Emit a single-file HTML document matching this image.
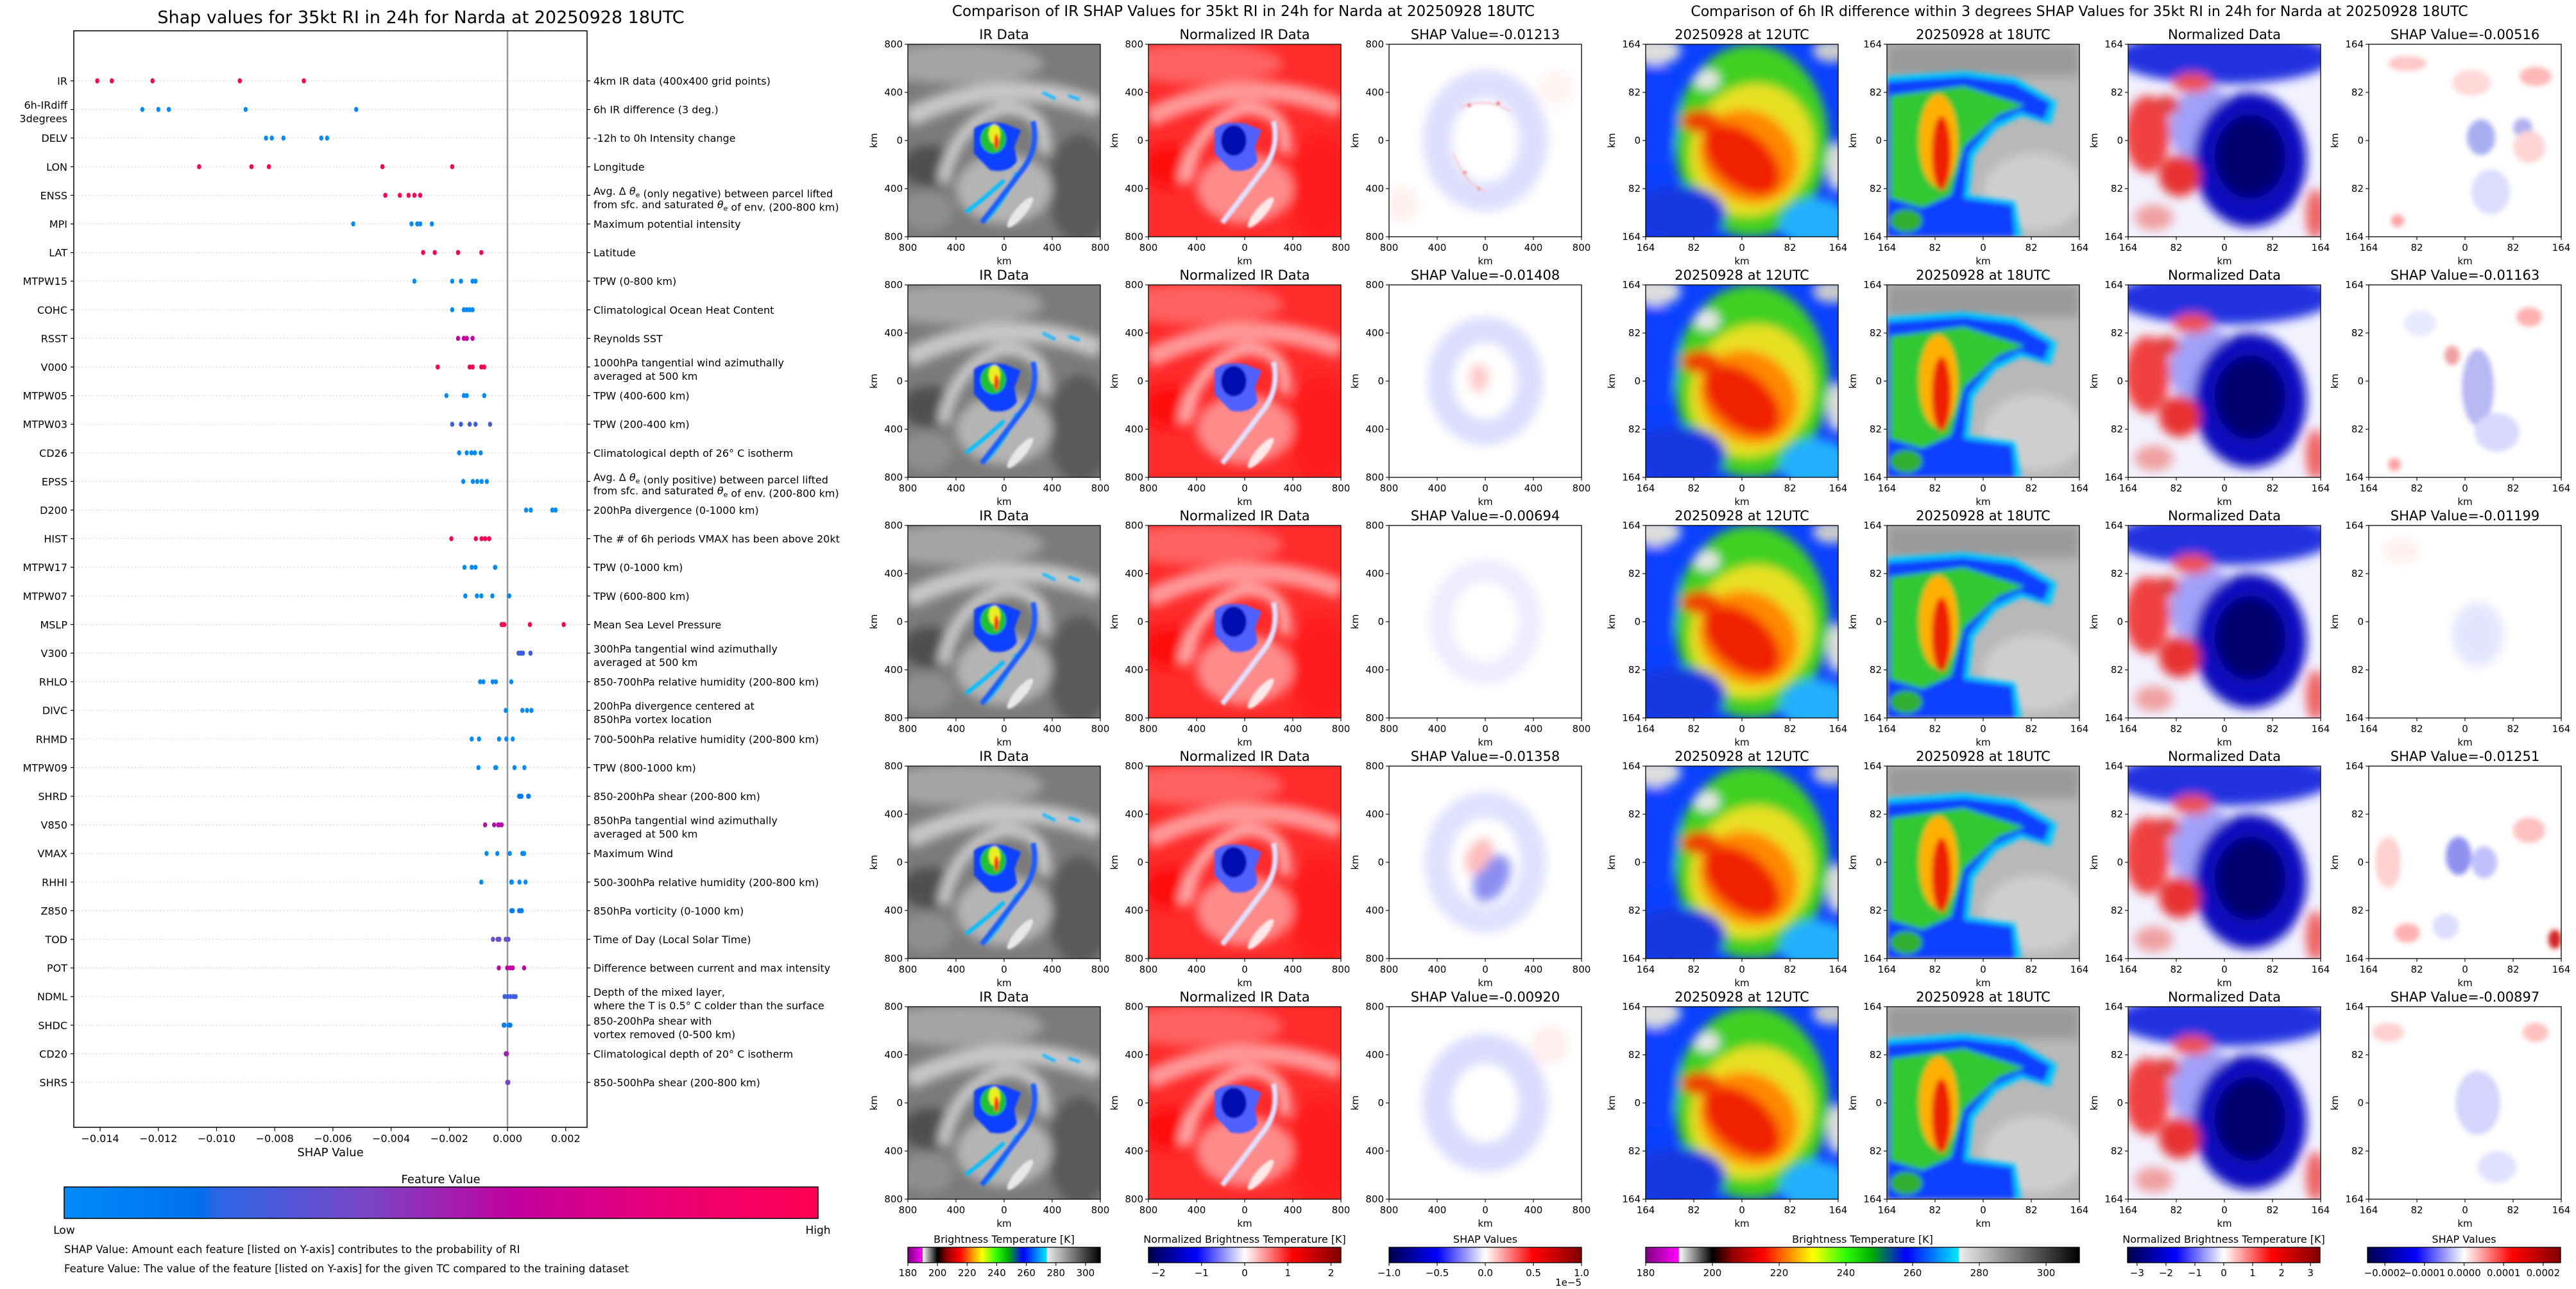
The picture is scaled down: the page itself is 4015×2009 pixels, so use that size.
<!DOCTYPE html>
<html><head><meta charset="utf-8"><style>
html,body{margin:0;padding:0;background:#fff;}
svg{display:block;font-family:"DejaVu Sans","Liberation Sans",sans-serif;}
</style></head><body>
<svg id="fig" xmlns="http://www.w3.org/2000/svg" width="4015" height="2009" viewBox="0 0 4015 2009">
<defs>
<filter id="b8" x="-20%" y="-20%" width="140%" height="140%"><feGaussianBlur stdDeviation="8"/></filter>
<filter id="b4" x="-20%" y="-20%" width="140%" height="140%"><feGaussianBlur stdDeviation="4"/></filter>
<filter id="b2" x="-20%" y="-20%" width="140%" height="140%"><feGaussianBlur stdDeviation="1.6"/></filter>
<clipPath id="pc"><rect width="300" height="300"/></clipPath>
<linearGradient id="gFeat" x1="0" x2="1" y1="0" y2="0">
<stop offset="0" stop-color="#008bfb"/><stop offset="0.18" stop-color="#0070ee"/><stop offset="0.2" stop-color="#2a66e6"/><stop offset="0.4" stop-color="#7a46c6"/><stop offset="0.6" stop-color="#c2009e"/><stop offset="0.8" stop-color="#ec0076"/><stop offset="1" stop-color="#ff0052"/></linearGradient>
<linearGradient id="gBT" x1="0" x2="1" y1="0" y2="0">
<stop offset="0" stop-color="#800080"/><stop offset="0.076" stop-color="#ff00ff"/><stop offset="0.077" stop-color="#ffffff"/><stop offset="0.154" stop-color="#000000"/><stop offset="0.2" stop-color="#900000"/><stop offset="0.27" stop-color="#ff0000"/><stop offset="0.34" stop-color="#ffa000"/><stop offset="0.385" stop-color="#ffff00"/><stop offset="0.46" stop-color="#30ff00"/><stop offset="0.52" stop-color="#00b000"/><stop offset="0.6" stop-color="#0000ff"/><stop offset="0.721" stop-color="#00e8ff"/><stop offset="0.723" stop-color="#ececec"/><stop offset="1" stop-color="#000000"/></linearGradient>
<linearGradient id="gSeis" x1="0" x2="1" y1="0" y2="0">
<stop offset="0" stop-color="#00004c"/><stop offset="0.25" stop-color="#0000ff"/><stop offset="0.5" stop-color="#ffffff"/><stop offset="0.75" stop-color="#ff0000"/><stop offset="1" stop-color="#800000"/></linearGradient>

<symbol id="irImg" viewBox="0 0 300 300"><g clip-path="url(#pc)">
<rect width="300" height="300" fill="#7b7b7b"/>
<g filter="url(#b8)">
<ellipse cx="80" cy="30" rx="130" ry="32" fill="#a4a4a4"/>
<path d="M0,115 Q150,40 300,100" stroke="#c8c8c8" stroke-width="30" fill="none"/>
<ellipse cx="35" cy="190" rx="45" ry="32" fill="#505050"/>
<ellipse cx="268" cy="225" rx="50" ry="85" fill="#5a5a5a"/>
<ellipse cx="150" cy="225" rx="75" ry="55" fill="#b4b4b4"/>
<path d="M55,215 Q75,120 150,100 Q220,100 212,170" stroke="#cfcfcf" stroke-width="18" fill="none"/>
<ellipse cx="30" cy="260" rx="40" ry="30" fill="#8f8f8f"/>
</g>
<ellipse cx="175" cy="262" rx="30" ry="8" fill="#e8e8e8" transform="rotate(-50 175 262)" filter="url(#b2)"/>
<g filter="url(#b2)">
<path d="M150,212 Q120,240 90,262 M170,200 Q150,245 120,275" stroke="#00bfff" stroke-width="6" fill="none"/>
<path d="M195,120 Q205,165 175,200 Q145,240 115,278" stroke="#1a5cff" stroke-width="8" fill="none"/>
<path d="M103,132 Q118,118 152,124 L176,134 L166,160 L170,182 Q158,202 128,196 L103,170 Z" fill="#1040ff"/>
<ellipse cx="133" cy="148" rx="20" ry="22" fill="#20c030"/>
<ellipse cx="135" cy="140" rx="9" ry="15" fill="#e8f020"/>
<ellipse cx="138" cy="152" rx="3.5" ry="12" fill="#ff3000"/>
<path d="M210,75 L230,85 M250,80 L268,86" stroke="#20b8ff" stroke-width="5"/>
</g></g></symbol>

<symbol id="nrImg" viewBox="0 0 300 300"><g clip-path="url(#pc)">
<rect width="300" height="300" fill="#ff2a2a"/>
<g filter="url(#b8)">
<ellipse cx="80" cy="30" rx="130" ry="32" fill="#ff6060"/>
<path d="M0,115 Q150,40 300,100" stroke="#ff9a9a" stroke-width="30" fill="none"/>
<ellipse cx="35" cy="190" rx="45" ry="32" fill="#ff0c0c"/>
<ellipse cx="268" cy="225" rx="50" ry="85" fill="#ff1a1a"/>
<ellipse cx="150" cy="225" rx="75" ry="55" fill="#ff8a8a"/>
<path d="M55,215 Q75,120 150,100 Q220,100 212,170" stroke="#ffb0b0" stroke-width="18" fill="none"/>
</g>
<ellipse cx="175" cy="262" rx="30" ry="8" fill="#ffe8e8" transform="rotate(-50 175 262)" filter="url(#b2)"/>
<g filter="url(#b2)">
<path d="M195,120 Q205,165 175,200 Q145,240 115,278" stroke="#e0e0ff" stroke-width="8" fill="none"/>
<path d="M103,132 Q118,118 152,124 L176,134 L166,160 L170,182 Q158,202 128,196 L103,170 Z" fill="#5060ff"/>
<ellipse cx="133" cy="150" rx="20" ry="24" fill="#0010b0"/>
</g></g></symbol>

<symbol id="t12" viewBox="0 0 300 300"><g clip-path="url(#pc)">
<rect width="300" height="300" fill="#0a40ff"/>
<g filter="url(#b8)">
<ellipse cx="165" cy="150" rx="120" ry="150" fill="#40d020"/>
<ellipse cx="165" cy="165" rx="95" ry="105" fill="#e8e020" transform="rotate(25 165 165)"/>
<ellipse cx="160" cy="175" rx="80" ry="70" fill="#ff8800" transform="rotate(35 160 175)"/>
<ellipse cx="150" cy="180" rx="70" ry="42" fill="#f02000" transform="rotate(40 150 180)"/>
<ellipse cx="85" cy="120" rx="30" ry="18" fill="#f04000"/>
<ellipse cx="15" cy="110" rx="35" ry="80" fill="#1040ff"/>
<ellipse cx="50" cy="265" rx="75" ry="45" fill="#1838e0"/>
<ellipse cx="265" cy="280" rx="55" ry="40" fill="#20b0ff"/>
<ellipse cx="15" cy="10" rx="40" ry="22" fill="#dddddd"/>
<ellipse cx="298" cy="190" rx="16" ry="40" fill="#dddddd"/>
<ellipse cx="290" cy="10" rx="30" ry="18" fill="#cccccc"/>
<ellipse cx="95" cy="55" rx="20" ry="15" fill="#e8e8e8"/>
</g></g></symbol>

<symbol id="t18" viewBox="0 0 300 300"><g clip-path="url(#pc)">
<rect width="300" height="300" fill="#b8b8b8"/>
<g filter="url(#b8)">
<rect width="300" height="50" fill="#9a9a9a"/>
<ellipse cx="230" cy="230" rx="80" ry="60" fill="#cfcfcf"/>
</g>
<g filter="url(#b4)">
<path d="M0,50 L120,42 L200,52 L265,90 L255,125 L210,112 L170,132 L135,175 L128,235 L200,245 L210,300 L0,300 Z" fill="#00c8ff"/>
<path d="M0,58 L120,50 L198,60 L255,92 L245,118 L208,105 L165,125 L128,170 L120,240 L195,250 L200,300 L0,300 Z" fill="#1040ff"/>
<path d="M5,80 L120,65 L215,95 L175,110 L120,160 L100,235 L55,255 L5,240 Z" fill="#30c830"/>
<ellipse cx="80" cy="150" rx="30" ry="72" fill="#ffb000"/>
<ellipse cx="85" cy="170" rx="15" ry="58" fill="#ee2000"/>
<ellipse cx="30" cy="275" rx="25" ry="18" fill="#30b030"/>
</g></g></symbol>

<symbol id="n3" viewBox="0 0 300 300"><g clip-path="url(#pc)">
<rect width="300" height="300" fill="#f2f2ff"/>
<g filter="url(#b8)">
<ellipse cx="150" cy="20" rx="170" ry="42" fill="#2030e0"/>
<ellipse cx="120" cy="130" rx="55" ry="65" fill="#a0a0f8"/>
<ellipse cx="190" cy="180" rx="88" ry="105" fill="#1010c0"/>
<ellipse cx="190" cy="175" rx="55" ry="65" fill="#000070"/>
<ellipse cx="30" cy="140" rx="35" ry="60" fill="#f04040"/>
<ellipse cx="80" cy="205" rx="32" ry="32" fill="#e83030"/>
<ellipse cx="100" cy="60" rx="30" ry="15" fill="#f05050"/>
<ellipse cx="60" cy="95" rx="20" ry="15" fill="#e04040"/>
<ellipse cx="292" cy="265" rx="15" ry="40" fill="#f06060"/>
<ellipse cx="40" cy="270" rx="30" ry="20" fill="#f0a0a0"/>
</g></g></symbol>

<symbol id="s1" viewBox="0 0 300 300"><g clip-path="url(#pc)"><rect width="300" height="300" fill="#fff"/>
<g filter="url(#b8)"><ellipse cx="150" cy="150" rx="75" ry="88" fill="none" stroke="#dedeff" stroke-width="45"/><ellipse cx="20" cy="250" rx="25" ry="30" fill="#fff0f0"/><ellipse cx="260" cy="70" rx="30" ry="30" fill="#fff4f4"/></g>
<g filter="url(#b2)"><path d="M110,100 Q150,80 190,105 M100,170 Q120,220 150,230" stroke="#f8c8c8" stroke-width="2.5" fill="none"/><circle cx="125" cy="95" r="3" fill="#f08080"/><circle cx="170" cy="92" r="3" fill="#f08080"/><circle cx="118" cy="200" r="3" fill="#f09090"/><circle cx="140" cy="225" r="2.5" fill="#f09090"/></g></g></symbol>
<symbol id="s2" viewBox="0 0 300 300"><g clip-path="url(#pc)"><rect width="300" height="300" fill="#fff"/>
<g filter="url(#b8)"><ellipse cx="150" cy="150" rx="70" ry="80" fill="none" stroke="#dcdcff" stroke-width="40"/><ellipse cx="140" cy="145" rx="15" ry="22" fill="#ffc8c8"/></g></g></symbol>
<symbol id="s3" viewBox="0 0 300 300"><g clip-path="url(#pc)"><rect width="300" height="300" fill="#fff"/>
<g filter="url(#b8)"><ellipse cx="150" cy="150" rx="70" ry="80" fill="none" stroke="#ececff" stroke-width="35"/></g></g></symbol>
<symbol id="s4" viewBox="0 0 300 300"><g clip-path="url(#pc)"><rect width="300" height="300" fill="#fff"/>
<g filter="url(#b8)"><ellipse cx="150" cy="150" rx="75" ry="90" fill="none" stroke="#e0e0ff" stroke-width="40"/><ellipse cx="160" cy="175" rx="25" ry="40" fill="#8a8ef0" transform="rotate(30 160 175)"/><ellipse cx="140" cy="140" rx="18" ry="30" fill="#ffbcbc" transform="rotate(30 140 140)"/></g></g></symbol>
<symbol id="s5" viewBox="0 0 300 300"><g clip-path="url(#pc)"><rect width="300" height="300" fill="#fff"/>
<g filter="url(#b8)"><ellipse cx="150" cy="150" rx="75" ry="85" fill="none" stroke="#dadaff" stroke-width="45"/><ellipse cx="250" cy="60" rx="30" ry="30" fill="#ffeeee"/></g></g></symbol>
<symbol id="r1" viewBox="0 0 300 300"><g clip-path="url(#pc)"><rect width="300" height="300" fill="#fff"/>
<g filter="url(#b4)"><ellipse cx="60" cy="30" rx="30" ry="12" fill="#ffc8c8"/><ellipse cx="160" cy="60" rx="30" ry="20" fill="#ffd8d8"/><ellipse cx="260" cy="50" rx="25" ry="15" fill="#ffb8b8"/><ellipse cx="175" cy="145" rx="22" ry="28" fill="#a8aef0"/><ellipse cx="240" cy="130" rx="15" ry="15" fill="#b0b0f0"/><ellipse cx="250" cy="160" rx="25" ry="25" fill="#ffd4d4"/><ellipse cx="190" cy="230" rx="30" ry="35" fill="#dcdcff"/><ellipse cx="45" cy="275" rx="10" ry="10" fill="#ffa0a0"/></g></g></symbol>
<symbol id="r2" viewBox="0 0 300 300"><g clip-path="url(#pc)"><rect width="300" height="300" fill="#fff"/>
<g filter="url(#b4)"><ellipse cx="170" cy="160" rx="25" ry="60" fill="#b8b8f4"/><ellipse cx="130" cy="110" rx="12" ry="15" fill="#f0a0a0"/><ellipse cx="250" cy="50" rx="20" ry="15" fill="#ffb0b0"/><ellipse cx="40" cy="280" rx="10" ry="10" fill="#ffa0a0"/><ellipse cx="80" cy="60" rx="25" ry="20" fill="#e8e8ff"/><ellipse cx="200" cy="230" rx="35" ry="30" fill="#d8d8ff"/></g></g></symbol>
<symbol id="r3" viewBox="0 0 300 300"><g clip-path="url(#pc)"><rect width="300" height="300" fill="#fff"/>
<g filter="url(#b8)"><ellipse cx="170" cy="170" rx="40" ry="50" fill="#e4e4ff"/><ellipse cx="50" cy="40" rx="30" ry="20" fill="#fff0f0"/></g></g></symbol>
<symbol id="r4" viewBox="0 0 300 300"><g clip-path="url(#pc)"><rect width="300" height="300" fill="#fff"/>
<g filter="url(#b4)"><ellipse cx="140" cy="140" rx="20" ry="30" fill="#9090f0"/><ellipse cx="180" cy="150" rx="20" ry="25" fill="#c0c0ff"/><ellipse cx="250" cy="100" rx="25" ry="20" fill="#ffc0c0"/><ellipse cx="30" cy="150" rx="20" ry="40" fill="#ffd0d0"/><ellipse cx="290" cy="270" rx="10" ry="15" fill="#d02020"/><ellipse cx="60" cy="260" rx="20" ry="15" fill="#ffb0b0"/><ellipse cx="120" cy="250" rx="20" ry="20" fill="#dcdcff"/></g></g></symbol>
<symbol id="r5" viewBox="0 0 300 300"><g clip-path="url(#pc)"><rect width="300" height="300" fill="#fff"/>
<g filter="url(#b4)"><ellipse cx="170" cy="150" rx="35" ry="50" fill="#d4d4fc"/><ellipse cx="30" cy="40" rx="25" ry="15" fill="#ffd0d0"/><ellipse cx="260" cy="40" rx="20" ry="15" fill="#ffc0c0"/><ellipse cx="200" cy="250" rx="30" ry="25" fill="#e0e0ff"/></g></g></symbol>
</defs>

<rect width="4015" height="2009" fill="#ffffff"/>

<g id="shapChart">
<text x="656" y="36" font-size="27" text-anchor="middle">Shap values for 35kt RI in 24h for Narda at 20250928 18UTC</text>
<g id="shapGrid"></g>
<line x1="791" y1="48" x2="791" y2="1757" stroke="#999" stroke-width="2.5"/>
<g id="shapDots"></g>
<rect x="115" y="48" width="800" height="1709" fill="none" stroke="#000" stroke-width="1.5"/>
<g id="shapYLabels" font-size="16"></g>
<g id="shapDesc" font-size="16"></g>
<g id="shapXTicks" font-size="16"></g>
<text x="515" y="1802" font-size="18" text-anchor="middle">SHAP Value</text>
<text x="687" y="1844" font-size="18" text-anchor="middle">Feature Value</text>
<rect x="100" y="1850" width="1175" height="49" fill="url(#gFeat)" stroke="#000" stroke-width="1.5"/>
<text x="100" y="1923" font-size="17" text-anchor="middle">Low</text>
<text x="1275" y="1923" font-size="17" text-anchor="middle">High</text>
<text x="100" y="1953" font-size="16.5">SHAP Value: Amount each feature [listed on Y-axis] contributes to the probability of RI</text>
<text x="100" y="1983" font-size="16.5">Feature Value: The value of the feature [listed on Y-axis] for the given TC compared to the training dataset</text>
</g>

<text x="1938" y="25" font-size="23" text-anchor="middle">Comparison of IR SHAP Values for 35kt RI in 24h for Narda at 20250928 18UTC</text>
<text x="3241" y="25" font-size="22" text-anchor="middle">Comparison of 6h IR difference within 3 degrees SHAP Values for 35kt RI in 24h for Narda at 20250928 18UTC</text>
<g id="panels"></g>
<g id="cbars"></g>
</svg>

<script>
const features = ["IR","6h-IRdiff|3degrees","DELV","LON","ENSS","MPI","LAT","MTPW15","COHC","RSST","V000","MTPW05","MTPW03","CD26","EPSS","D200","HIST","MTPW17","MTPW07","MSLP","V300","RHLO","DIVC","RHMD","MTPW09","SHRD","V850","VMAX","RHHI","Z850","TOD","POT","NDML","SHDC","CD20","SHRS"];
const descriptions = ["4km IR data (400x400 grid points)","6h IR difference (3 deg.)","-12h to 0h Intensity change","Longitude","Avg. Δ θe (only negative) between parcel lifted|from sfc. and saturated θe of env. (200-800 km)","Maximum potential intensity","Latitude","TPW (0-800 km)","Climatological Ocean Heat Content","Reynolds SST","1000hPa tangential wind azimuthally|averaged at 500 km","TPW (400-600 km)","TPW (200-400 km)","Climatological depth of 26° C isotherm","Avg. Δ θe (only positive) between parcel lifted|from sfc. and saturated θe of env. (200-800 km)","200hPa divergence (0-1000 km)","The # of 6h periods VMAX has been above 20kt","TPW (0-1000 km)","TPW (600-800 km)","Mean Sea Level Pressure","300hPa tangential wind azimuthally|averaged at 500 km","850-700hPa relative humidity (200-800 km)","200hPa divergence centered at|850hPa vortex location","700-500hPa relative humidity (200-800 km)","TPW (800-1000 km)","850-200hPa shear (200-800 km)","850hPa tangential wind azimuthally|averaged at 500 km","Maximum Wind","500-300hPa relative humidity (200-800 km)","850hPa vorticity (0-1000 km)","Time of Day (Local Solar Time)","Difference between current and max intensity","Depth of the mixed layer,|where the T is 0.5° C colder than the surface","850-200hPa shear with|vortex removed (0-500 km)","Climatological depth of 20° C isotherm","850-500hPa shear (200-800 km)"];
const shapValues = [
[-0.0141,-0.0136,-0.0122,-0.0092,-0.0070],
[-0.01255,-0.0120,-0.01164,-0.0090,-0.0052],
[-0.0083,-0.0081,-0.0077,-0.0064,-0.0062],
[-0.0106,-0.0088,-0.0082,-0.0043,-0.0019],
[-0.0042,-0.0037,-0.0034,-0.0032,-0.0030],
[-0.0053,-0.0033,-0.0031,-0.0030,-0.0026],
[-0.0029,-0.0025,-0.0017,-0.0017,-0.0009],
[-0.0032,-0.0019,-0.0016,-0.0012,-0.0011],
[-0.0019,-0.0015,-0.0014,-0.0013,-0.0012],
[-0.0017,-0.0015,-0.0014,-0.0014,-0.0012],
[-0.0024,-0.0013,-0.0012,-0.0009,-0.0008],
[-0.0021,-0.0015,-0.0014,-0.0008,-0.0008],
[-0.0019,-0.0016,-0.0013,-0.0011,-0.0006],
[-0.00166,-0.0014,-0.00124,-0.00112,-0.00092],
[-0.00152,-0.00119,-0.00104,-0.00089,-0.00071],
[0.00064,0.0008,0.00154,0.00165,0.00165],
[-0.00193,-0.00109,-0.00089,-0.00077,-0.00063],
[-0.00148,-0.00123,-0.0011,-0.00043,-0.00042],
[-0.00145,-0.00105,-0.0009,-0.00052,0.00006],
[-0.0002,-0.00011,0.00077,0.00193,-0.00015],
[0.00038,0.00046,0.00053,0.00079,0.00079],
[-0.00094,-0.00083,-0.00051,-0.0004,0.00013],
[-0.00006,0.00051,0.00067,0.00082,0.00082],
[-0.00123,-0.00098,-0.00029,-0.00004,0.00018],
[-0.001,-0.00042,-0.00039,0.00024,0.00058],
[0.0004,0.00044,0.00048,0.00073,0.00071],
[-0.00077,-0.00046,-0.00029,-0.0002,-0.00032],
[-0.00072,-0.00035,0.00008,0.00051,0.00057],
[-0.0009,0.00013,0.00041,0.00062,0.00015],
[0.00013,0.00018,0.0004,0.00049,0.00046],
[-0.0005,-0.00034,-0.00028,-0.00006,0.00003],
[-0.0003,-0.00001,0.00009,0.00018,0.00057],
[-0.0001,0.0,0.0001,0.0002,0.00028],
[-0.00013,-0.0001,0.00005,0.0001,0.00008],
[-0.00005,-0.00003,-0.00004,-0.00002,-0.00006],
[0.0,0.00002,0.00001,0.00003,-0.00001]];
const featureLevels = [1,0,0,1,1,0,1,0,0,0.6,1,0,0.25,0,0,0,1,0,0,1,0.25,0,0,0,0,0.1,0.55,0,0,0.1,0.35,0.6,0.25,0.1,0.5,0.38];
const xTickValues = [-0.014,-0.012,-0.010,-0.008,-0.006,-0.004,-0.002,0.000,0.002];
const xTickLabels = ["\u22120.014","\u22120.012","\u22120.010","\u22120.008","\u22120.006","\u22120.004","\u22120.002","0.000","0.002"];

const irShapTitles = ["SHAP Value=-0.01213","SHAP Value=-0.01408","SHAP Value=-0.00694","SHAP Value=-0.01358","SHAP Value=-0.00920"];
const diffShapTitles = ["SHAP Value=-0.00516","SHAP Value=-0.01163","SHAP Value=-0.01199","SHAP Value=-0.01251","SHAP Value=-0.00897"];
const irTickLabels = ["800","400","0","400","800"];
const diffTickLabels = ["164","82","0","82","164"];
const btTicks = [180,200,220,240,260,280,300];
const normIRTicks = [-2,-1,0,1,2];
const shapIRTicks = [-1.0,-0.5,0.0,0.5,1.0];
const normDiffTicks = [-3,-2,-1,0,1,2,3];
const shapDiffTicks = [-0.0002,-0.0001,0.0,0.0001,0.0002];

const NS = "http://www.w3.org/2000/svg";
function mk(tag, attrs, parent){const e=document.createElementNS(NS,tag);for(const k in attrs)e.setAttribute(k,attrs[k]);parent.appendChild(e);return e;}

const xScale = v => 791 + v * 45350;
const yScale = i => 126 + i * 44.6;

const stops=[[0,[0,139,251]],[0.18,[0,112,238]],[0.2,[42,102,230]],[0.4,[122,70,198]],[0.6,[194,0,158]],[0.8,[236,0,118]],[1,[255,0,82]]];
function featColor(t){for(let i=1;i<stops.length;i++){if(t<=stops[i][0]){const a=stops[i-1],b=stops[i];const f=(t-a[0])/(b[0]-a[0]);const c=a[1].map((v,j)=>Math.round(v+(b[1][j]-v)*f));return `rgb(${c.join(',')})`;}}return 'rgb(255,0,82)';}

const grid=document.getElementById('shapGrid'), dots=document.getElementById('shapDots'), yl=document.getElementById('shapYLabels'), dl=document.getElementById('shapDesc'), xt=document.getElementById('shapXTicks');

function addLines(parent,text,x,y,anchor,name){
  const parts=text.split('|');
  const t=mk('text',{x:x,'text-anchor':anchor},parent);
  
  
  parts.forEach((p,k)=>{
    const ty = parts.length===1 ? y+6 : (k===0 ? y-1 : y+20);
    const ts=mk('tspan',{x:x,y:ty},t);
    if(p.indexOf('θe')>=0){
      const segs=p.split('θe');
      segs.forEach((s,j)=>{ts.appendChild(document.createTextNode(s)); if(j<segs.length-1){const th=mk('tspan',{'font-style':'italic'},ts);th.textContent='θ';const sb=mk('tspan',{'font-size':'11','dy':'4'},ts);sb.textContent='e';const rs=mk('tspan',{'dy':'-4'},ts);rs.textContent='';}});
    } else ts.textContent=p;
  });
}

features.forEach((f,i)=>{
  const y=yScale(i);
  const gl=mk('line',{x1:117,x2:913,y1:y,y2:y,stroke:'#cccccc','stroke-width':1.2,'stroke-dasharray':'1.5,4'},grid);
  
  
  const tl=mk('line',{x1:110,x2:115,y1:y,y2:y,stroke:'#000','stroke-width':1.2},yl);
  
  
  const tr=mk('line',{x1:915,x2:920,y1:y,y2:y,stroke:'#000','stroke-width':1.2},dl);
  
  
  addLines(yl,f,105,y,'end','feature-label-'+f.split('|')[0].toLowerCase());
  addLines(dl,descriptions[i],925,y,'start','feature-description-'+i);
  const col=featColor(featureLevels[i]);
  shapValues[i].forEach(v=>{
    const c=mk('ellipse',{cx:xScale(v),cy:y,rx:3.2,ry:4,fill:col},dots);
    
    
  });
});
xTickValues.forEach((v,k)=>{
  const x=xScale(v);
  const l=mk('line',{x1:x,x2:x,y1:1757,y2:1763,stroke:'#000','stroke-width':1.2},xt);
  
  
  const t=mk('text',{x:x,y:1780,'text-anchor':'middle'},xt);
  
  
  t.textContent=xTickLabels[k];
});

const panels=document.getElementById('panels');
const rowTops=[69,444,819,1194,1569];
const midCols=[1415,1790,2165];
const rightCols=[2565,2941,3317,3692];
function panel(x,y,sym,title,ticks,name){
  const g=mk('g',{},panels);
  
  
  mk('use',{href:'#'+sym,x:x,y:y,width:300,height:300},g);
  mk('rect',{x:x,y:y,width:300,height:300,fill:'none',stroke:'#000','stroke-width':1.3},g);
  const tt=mk('text',{x:x+150,y:y-8,'font-size':21,'text-anchor':'middle'},g);
  
  
  tt.textContent=title;
  ticks.forEach((lab,k)=>{
    const yy=y+k*75, xx=x+k*75;
    mk('line',{x1:x-5,x2:x,y1:yy,y2:yy,stroke:'#000','stroke-width':1.1},g);
    mk('line',{x1:xx,x2:xx,y1:y+300,y2:y+305,stroke:'#000','stroke-width':1.1},g);
    const a=mk('text',{x:x-8,y:yy+5,'font-size':15,'text-anchor':'end'},g);
    
    
    a.textContent=lab;
    const b=mk('text',{x:xx,y:y+322,'font-size':15,'text-anchor':'middle'},g);
    
    
    b.textContent=lab;
  });
  const xl=mk('text',{x:x+150,y:y+343,'font-size':15,'text-anchor':'middle'},g);
  
  
  xl.textContent='km';
  const ylab=mk('text',{x:x-48,y:y+150,'font-size':15,'text-anchor':'middle',transform:`rotate(-90 ${x-48} ${y+150})`},g);
  
  
  ylab.textContent='km';
}
rowTops.forEach((y,r)=>{
  panel(midCols[0],y,'irImg','IR Data',irTickLabels,'ir-data-panel-'+(r+1));
  panel(midCols[1],y,'nrImg','Normalized IR Data',irTickLabels,'normalized-ir-panel-'+(r+1));
  panel(midCols[2],y,'s'+(r+1),irShapTitles[r],irTickLabels,'ir-shap-panel-'+(r+1));
  panel(rightCols[0],y,'t12','20250928 at 12UTC',diffTickLabels,'ir-12utc-panel-'+(r+1));
  panel(rightCols[1],y,'t18','20250928 at 18UTC',diffTickLabels,'ir-18utc-panel-'+(r+1));
  panel(rightCols[2],y,'n3','Normalized Data',diffTickLabels,'normalized-diff-panel-'+(r+1));
  panel(rightCols[3],y,'r'+(r+1),diffShapTitles[r],diffTickLabels,'diff-shap-panel-'+(r+1));
});

const cb=document.getElementById('cbars');
function cbar(x,w,y,grad,title,vmin,vmax,ticks,fmt,name){
  const g=mk('g',{},cb);
  
  
  mk('rect',{x:x,y:y,width:w,height:24,fill:`url(#${grad})`,stroke:'#000','stroke-width':1.3},g);
  const t=mk('text',{x:x+w/2,y:y-7,'font-size':16,'text-anchor':'middle'},g);
  
  
  t.textContent=title;
  ticks.forEach(v=>{
    const xx=x+(v-vmin)/(vmax-vmin)*w;
    mk('line',{x1:xx,x2:xx,y1:y+24,y2:y+29,stroke:'#000','stroke-width':1.1},g);
    const l=mk('text',{x:xx,y:y+45,'font-size':15,'text-anchor':'middle'},g);
    
    
    l.textContent=fmt(v);
  });
}
const mfmt=s=>s.replace('-','\u2212');
cbar(1415,300,1944,'gBT','Brightness Temperature [K]',180,310,btTicks,v=>String(v),'ir-brightness-colorbar');
cbar(1790,300,1944,'gSeis','Normalized Brightness Temperature [K]',-2.23,2.23,normIRTicks,v=>mfmt(String(v)),'ir-normalized-colorbar');
cbar(2165,300,1944,'gSeis','SHAP Values',-1,1,shapIRTicks,v=>mfmt(v.toFixed(1)),'ir-shap-colorbar');
cbar(2565,676,1944,'gBT','Brightness Temperature [K]',180,310,btTicks,v=>String(v),'diff-brightness-colorbar');
cbar(3316,300,1944,'gSeis','Normalized Brightness Temperature [K]',-3.33,3.33,normDiffTicks,v=>mfmt(String(v)),'diff-normalized-colorbar');
cbar(3690,301,1944,'gSeis','SHAP Values',-0.000244,0.000244,shapDiffTicks,v=>mfmt(v.toFixed(4)),'diff-shap-colorbar');
const ex=mk('text',{x:2465,y:2004,'font-size':15,'text-anchor':'end'},cb);


ex.textContent='1e\u22125';
</script>
</body></html>
